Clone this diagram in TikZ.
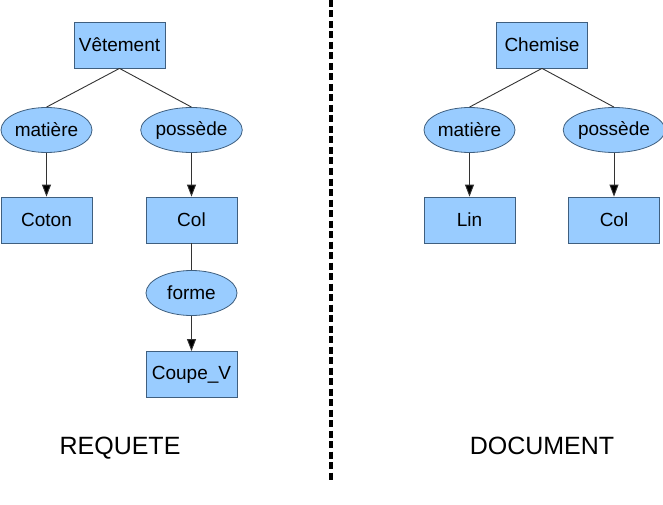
\documentclass[tikz,border=0pt]{standalone}
\usepackage{fontspec}
\setmainfont{Liberation Sans}
\usetikzlibrary{shapes.geometric,arrows.meta}

\definecolor{nodefill}{HTML}{99CCFF}
\definecolor{nodeline}{HTML}{3F5F7F}
\definecolor{linkgray}{HTML}{333333}

\tikzset{
	concept/.style={draw=nodeline, line width=0.8pt, fill=nodefill, rectangle, minimum width=91pt, minimum height=46pt, inner sep=0pt, font=\fontsize{19}{21}\selectfont},
	relation/.style={draw=nodeline, line width=0.8pt, fill=nodefill, ellipse, minimum width=91pt, minimum height=45pt, inner sep=0pt, font=\fontsize{19}{21}\selectfont},
	link/.style={draw=linkgray, line width=0.9pt},
	arc/.style={link, -{Triangle[length=12pt,width=9pt,fill=black]}},
	title/.style={anchor=base, font=\fontsize{25}{28}\selectfont}
}

\begin{document}
\begin{tikzpicture}[x=1pt, y=-1pt]
		\useasboundingbox (0,0) rectangle (663,505);

		% requete
		\node[concept] (vet) at (119.5,45) {Vêtement};
		\node[relation] (mat1) at (46.5,130) {matière};
		\node[relation] (pos1) at (191.5,130) {possède};
		\node[concept] (coton) at (46.5,220) {Coton};
		\node[concept] (col1) at (191.5,220) {Col};
		\node[relation] (forme) at (191.5,293) {forme};
		\node[concept] (coupe) at (191.5,374.5) {Coupe\_V};
		\draw[link] (vet.south) -- (mat1.north);
		\draw[link] (vet.south) -- (pos1.north);
		\draw[arc] (mat1) -- (coton);
		\draw[arc] (pos1) -- (col1);
		\draw[link] (col1) -- (forme);
		\draw[arc] (forme) -- (coupe);
		\node[title] (req) at (120,454) {REQUETE};

		% separation
		\coordinate (top) at (331,0);
		\coordinate (bot) at (331,483);
		\draw[line width=3.2pt, dash pattern=on 7pt off 3.5pt] (top) -- (bot);

		% document
		\node[concept] (chem) at (542,45) {Chemise};
		\node[relation] (mat2) at (469.5,130) {matière};
		\node[relation] (pos2) at (614,130) {possède};
		\node[concept] (lin) at (469.5,220) {Lin};
		\node[concept] (col2) at (614,220) {Col};
		\draw[link] (chem.south) -- (mat2.north);
		\draw[link] (chem.south) -- (pos2.north);
		\draw[arc] (mat2) -- (lin);
		\draw[arc] (pos2) -- (col2);
		\node[title] (doc) at (542,454) {DOCUMENT};
	\end{tikzpicture}
\end{document}
